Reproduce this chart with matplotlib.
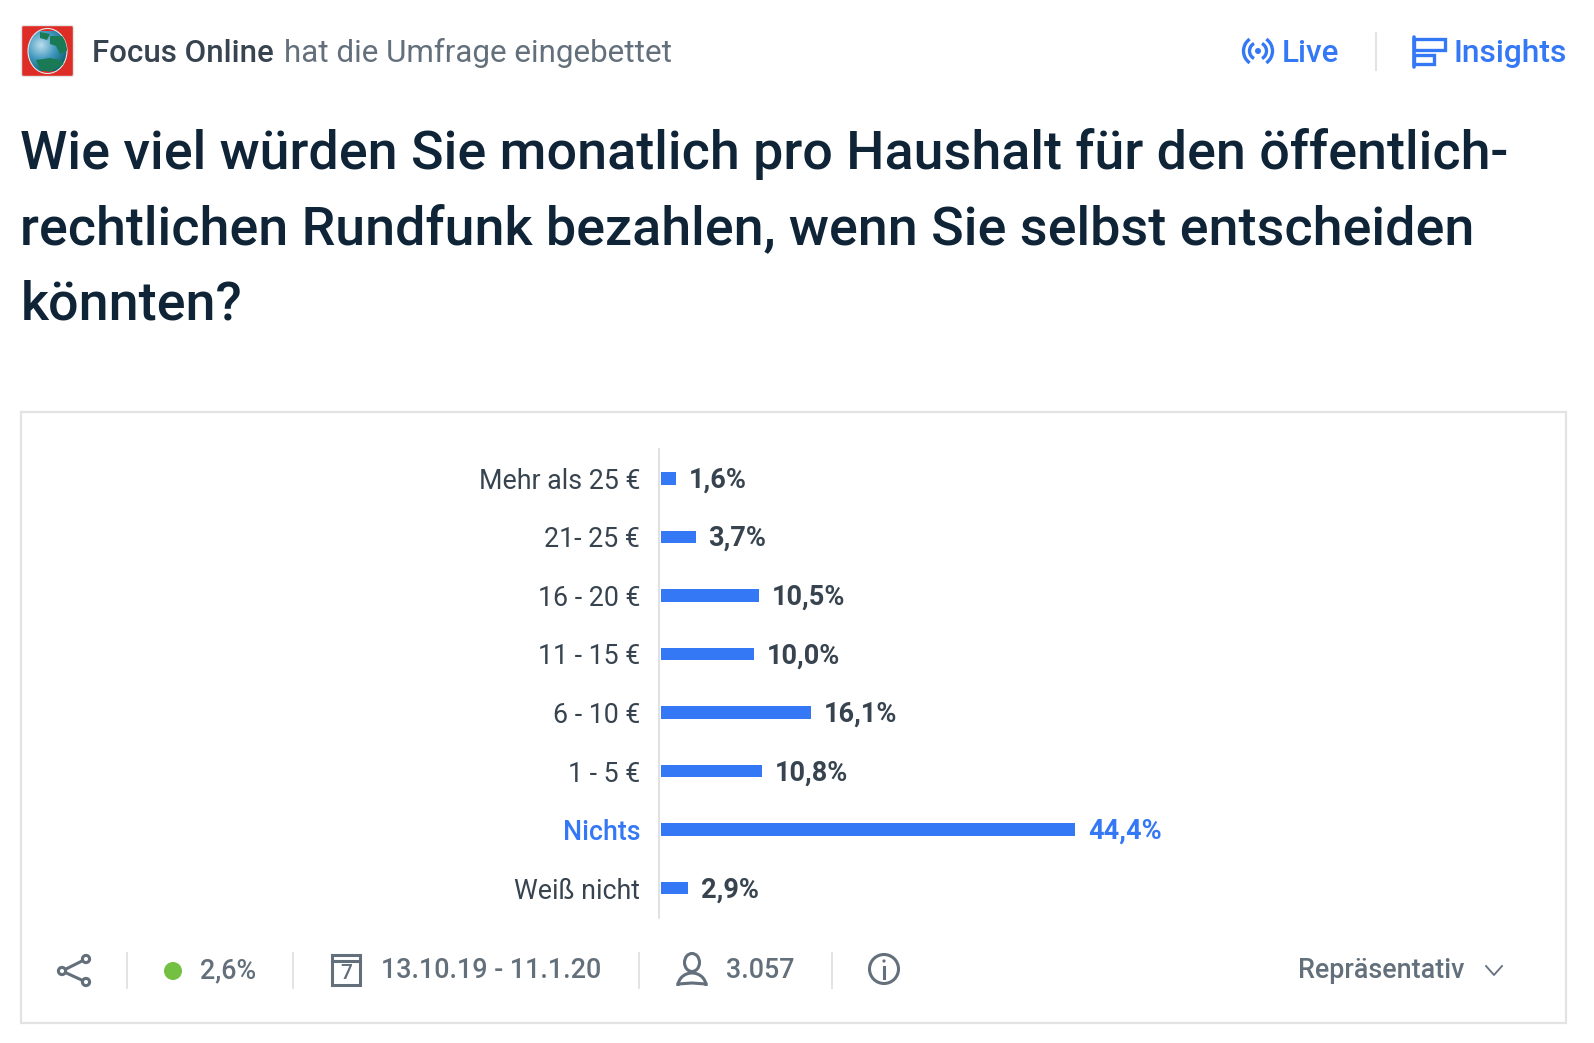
# -*- coding: utf-8 -*-
import matplotlib
matplotlib.use('Agg')
import matplotlib.pyplot as plt
from matplotlib.patches import Arc, Circle, Ellipse, FancyBboxPatch, Polygon, Rectangle
import numpy as np

plt.rcParams['font.family'] = ['Roboto', 'DejaVu Sans']

# Daten
categories = ['Mehr als 25 €', '21- 25 €', '16 - 20 €', '11 - 15 €', '6 - 10 €', '1 - 5 €', 'Nichts', 'Weiß nicht']
values = [1.6, 3.7, 10.5, 10.0, 16.1, 10.8, 44.4, 2.9]
value_labels = ['1,6%', '3,7%', '10,5%', '10,0%', '16,1%', '10,8%', '44,4%', '2,9%']
highlight = 'Nichts'

BLUE = '#3578f6'
DARK = '#0f2537'
TEXT = '#37444f'
GREY = '#63707b'
LINE = '#e3e3e3'

W, H = 1594, 1043
fig = plt.figure(figsize=(W / 100, H / 100), dpi=100, facecolor='white')

# Ebene in Pixeln fuer Kopf, Rahmen und Fusszeile
bg = fig.add_axes([0, 0, 1, 1])
bg.set_xlim(0, W)
bg.set_ylim(H, 0)
bg.axis('off')

# Logo
bg.add_patch(FancyBboxPatch((21.5, 25.5), 52, 51, boxstyle='round,pad=0,rounding_size=2',
                            fc='#de2c26', ec='#e6e6e6', lw=1))
yy, xx = np.mgrid[-1:1:80j, -1:1:80j]
shade = np.clip(np.hypot(xx + 0.3, yy + 0.3) / 1.5, 0, 1)
im = bg.imshow(shade, extent=(27, 67, 71, 31), cmap=matplotlib.colors.LinearSegmentedColormap.from_list(
    'globe', ['#b9dcec', '#3f97bd', '#0c5f6d']), aspect='auto', zorder=2)
clip = Ellipse((47.5, 51), 39, 45, fc='none', ec='#dfe9ea', lw=0.8, zorder=3)
bg.add_patch(clip)
im.set_clip_path(clip)
for pts in ([(40, 32), (50, 34), (47, 40), (40, 38)],
            [(50, 36), (66, 36), (68, 50), (60, 54), (56, 46), (50, 44)],
            [(36, 60), (50, 58), (60, 60), (64, 64), (50, 72), (40, 70)]):
    land = Polygon(pts, fc='#1a7a56', ec='none', zorder=3)
    bg.add_patch(land)
    land.set_clip_path(clip)
bg.set_xlim(0, W)
bg.set_ylim(H, 0)

bg.text(92.5, 53, 'Focus Online', fontsize=22.5, fontweight='medium', color=TEXT, va='center')
bg.text(284.5, 53, 'hat die Umfrage eingebettet', fontsize=22.6, color=GREY, va='center')

# Live / Insights
bg.add_patch(Circle((1258, 51), 3, fc=BLUE, ec='none'))
for r, a in ((8.5, 62), (14.5, 55)):
    d = 2 * r
    bg.add_patch(Arc((1258, 51), d, d, theta1=-a, theta2=a, ec=BLUE, lw=2.4))
    bg.add_patch(Arc((1258, 51), d, d, theta1=180 - a, theta2=180 + a, ec=BLUE, lw=2.4))
bg.text(1282, 53, 'Live', fontsize=22.7, fontweight='medium', color=BLUE, va='center')
bg.plot([1376, 1376], [33, 70], color=LINE, lw=1.5)
bg.plot([1414, 1414], [37, 67], color=BLUE, lw=2.6, solid_capstyle='round')
bg.add_patch(Rectangle((1414, 39), 31, 11, fc='none', ec=BLUE, lw=2.4))
bg.add_patch(Rectangle((1414, 55), 20, 8.5, fc='none', ec=BLUE, lw=2.4))
bg.text(1454, 53, 'Insights', fontsize=22.9, fontweight='medium', color=BLUE, va='center')

# Titel
for y, line in zip((154, 230, 305), ('Wie viel würden Sie monatlich pro Haushalt für den öffentlich-',
                                     'rechtlichen Rundfunk bezahlen, wenn Sie selbst entscheiden',
                                     'könnten?')):
    bg.text(20.5, y, line, fontsize=38.78, fontweight='medium', color=DARK, va='center')

# Rahmen
bg.add_patch(Rectangle((21, 412), 1545, 611, fc='white', ec=LINE, lw=1.6, zorder=1))

# Balken
px = 414 / 44.4
ax = fig.add_axes([661 / W, 1 - 917.5 / H, 800 / W, 468.5 / H], facecolor='none')
for s in ('top', 'right', 'bottom'):
    ax.spines[s].set_visible(False)
# set_position setzt die Ticks zurueck, deshalb vor den Labels
ax.spines['left'].set_position(('outward', 1.5))
ax.spines['left'].set_color('#dcdcdc')
ax.spines['left'].set_linewidth(1.2)
pos = np.arange(len(categories))
ax.barh(pos, values, height=12.5 / 58.6, color=BLUE)
ax.set_xlim(0, 800 / px)
ax.set_ylim(len(categories) - 0.5, -0.5)
ax.set_xticks([])
ax.set_yticks(pos)
ax.set_yticklabels(categories, fontsize=19.3, color=TEXT)
ax.tick_params(axis='y', length=0, pad=13.5)
for tick, cat in zip(ax.get_yticklabels(), categories):
    if cat == highlight:
        tick.set_color(BLUE)
        tick.set_fontweight('medium')
for p, v, lab, cat in zip(pos, values, value_labels, categories):
    ax.text(v + 13 / px, p + 0.03, lab, fontsize=19.5, fontweight='bold', va='center',
            color=BLUE if cat == highlight else TEXT)

# Fusszeile
fy = 969.5
for x in (127, 293, 639, 832):
    bg.plot([x, x], [fy - 17, fy + 18], color=LINE, lw=1.4)

# Teilen
nodes = [(86, 959), (62, 971), (86, 982)]
bg.plot([nodes[0][0], nodes[1][0], nodes[2][0]], [nodes[0][1], nodes[1][1], nodes[2][1]], color=GREY, lw=2.2)
for n in nodes:
    bg.add_patch(Circle(n, 3.6, fc='white', ec=GREY, lw=2.2, zorder=3))

bg.add_patch(Circle((173, 971), 9, fc='#74c043', ec='none'))
bg.text(200, 971, '2,6%', fontsize=19.4, fontweight='medium', color=GREY, va='center')

# Kalender
bg.add_patch(Rectangle((332, 955), 28, 30, fc='none', ec=GREY, lw=2.2))
bg.plot([332, 360], [961, 961], color=GREY, lw=2.2)
bg.text(346, 973.5, '7', fontsize=15, fontweight='medium', color=GREY, ha='center', va='center')
bg.text(381.5, 971, '13.10.19 - 11.1.20', fontsize=19.45, fontweight='medium', color=GREY, va='center')

# Person
bg.add_patch(Ellipse((692, 962.5), 15, 18, fc='white', ec=GREY, lw=2.2))
bg.add_patch(Arc((692, 986), 28, 26, theta1=180, theta2=360, ec=GREY, lw=2.2))
bg.plot([678, 692, 706], [984, 983, 984], color=GREY, lw=2.2)
bg.text(726, 971, '3.057', fontsize=19.4, fontweight='medium', color=GREY, va='center')

# Info
bg.add_patch(Circle((884, 969), 14.5, fc='none', ec=GREY, lw=2.2))
bg.plot([884, 884], [967, 978], color=GREY, lw=2.2)
bg.add_patch(Circle((884, 961), 1.6, fc=GREY, ec='none'))

bg.text(1298, 971, 'Repräsentativ', fontsize=19.4, fontweight='medium', color=GREY, va='center')
bg.plot([1486, 1494, 1502], [966, 975, 966], color=GREY, lw=1.3)

fig.savefig('out.png', dpi=100)
plt.close()
